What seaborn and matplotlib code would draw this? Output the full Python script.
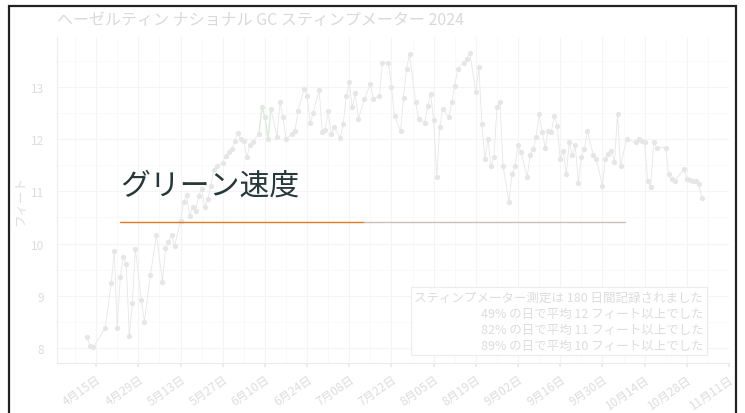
import matplotlib
matplotlib.use("Agg")
import matplotlib.pyplot as plt
import matplotlib.dates as mdates
from matplotlib.patches import Rectangle
from matplotlib.lines import Line2D
import seaborn as sns
import pandas as pd
import numpy as np

# ---------------- data ----------------
dates = [
    "04-12", "04-13", "04-14", "04-18", "04-20", "04-21", "04-22", "04-23", "04-24", "04-25",
    "04-26", "04-27", "04-28", "04-30", "05-01", "05-03", "05-05", "05-07", "05-08", "05-09",
    "05-10", "05-11", "05-13", "05-14", "05-15", "05-16", "05-17", "05-18", "05-19", "05-20",
    "05-21", "05-22", "05-23", "05-24", "05-25", "05-27", "05-28", "05-29", "05-30", "05-31",
    "06-01", "06-02", "06-03", "06-04", "06-05", "06-06", "06-08", "06-09", "06-10", "06-11",
    "06-12", "06-14", "06-15", "06-16", "06-17", "06-19", "06-20", "06-21", "06-23", "06-24",
    "06-25", "06-26", "06-28", "06-29", "06-30", "07-01", "07-02", "07-03", "07-05", "07-06",
    "07-07", "07-08", "07-09", "07-10", "07-11", "07-13", "07-15", "07-16", "07-18", "07-19",
    "07-21", "07-22", "07-23", "07-25", "07-26", "07-27", "07-28", "07-30", "07-31", "08-02",
    "08-03", "08-04", "08-05", "08-06", "08-07", "08-08", "08-10", "08-11", "08-12", "08-13",
    "08-15", "08-16", "08-17", "08-19", "08-20", "08-21", "08-22", "08-23", "08-24", "08-25",
    "08-26", "08-27", "08-28", "08-30", "08-31", "09-01", "09-02", "09-03", "09-05", "09-06",
    "09-07", "09-08", "09-09", "09-10", "09-11", "09-12", "09-13", "09-14", "09-15", "09-16",
    "09-17", "09-18", "09-19", "09-20", "09-21", "09-22", "09-23", "09-24", "09-25", "09-27",
    "09-28", "09-30", "10-01", "10-02", "10-03", "10-04", "10-05", "10-06", "10-08", "10-11",
    "10-12", "10-13", "10-14", "10-15", "10-16", "10-17", "10-18", "10-21", "10-22", "10-23",
    "10-24", "10-27", "10-28", "10-29", "10-30", "10-31", "11-01", "11-02",
]
speeds = [
    8.20, 8.04, 8.01, 8.38, 9.24, 9.85, 8.38, 9.36, 9.75, 9.60,
    8.22, 8.86, 9.90, 8.91, 8.50, 9.40, 10.17, 9.26, 9.91, 10.03,
    10.17, 9.95, 10.44, 10.80, 10.93, 10.53, 10.70, 10.62, 10.92, 11.05,
    10.70, 10.85, 11.10, 11.41, 11.48, 11.55, 11.68, 11.76, 11.81, 11.97,
    12.11, 12.00, 11.97, 11.65, 11.88, 11.95, 12.10, 12.61, 12.42, 12.00,
    12.58, 12.04, 12.71, 12.42, 12.00, 12.10, 12.16, 12.55, 12.96, 12.82,
    12.32, 12.50, 12.95, 12.13, 12.18, 12.55, 12.10, 12.23, 12.03, 12.29,
    12.83, 13.09, 12.61, 12.89, 12.39, 12.77, 13.06, 12.77, 12.83, 13.47,
    13.47, 13.00, 12.45, 12.16, 12.80, 13.35, 13.63, 12.71, 12.39, 12.32,
    12.64, 12.87, 12.36, 11.27, 12.23, 12.58, 12.42, 12.71, 13.03, 13.35,
    13.47, 13.54, 13.65, 12.90, 13.38, 12.29, 11.62, 12.00, 11.49, 11.65,
    12.61, 12.71, 11.49, 10.79, 11.33, 11.49, 11.88, 11.75, 11.27, 11.69,
    11.81, 12.04, 12.48, 12.13, 11.84, 12.16, 12.13, 12.45, 12.26, 11.62,
    11.78, 11.33, 11.94, 11.69, 11.88, 11.17, 11.65, 11.81, 12.16, 11.69,
    11.62, 11.11, 11.62, 11.72, 11.78, 11.56, 12.48, 11.49, 12.00, 11.94,
    12.00, 11.97, 11.94, 11.20, 11.08, 11.94, 11.84, 11.84, 11.33, 11.24,
    11.20, 11.43, 11.24, 11.22, 11.20, 11.19, 11.14, 10.87,
]
highlight_dates = ["06-08", "06-09", "06-10", "06-11", "06-12"]

chart_title = "ヘーゼルティン ナショナル GC スティンプメーター 2024"
y_label = "フィート"
y_ticks = [8, 9, 10, 11, 12, 13]
note_lines = [
    "スティンプメーター測定は 180 日間記録されました",
    "49% の日で平均 12 フィート以上でした",
    "82% の日で平均 11 フィート以上でした",
    "89% の日で平均 10 フィート以上でした",
]
slide_title = "グリーン速度"

# ---------------- build ----------------
year = "2024-"
df = pd.DataFrame({"date": pd.to_datetime([year + d for d in dates]), "speed": speeds})
hl = df[df["date"].isin(pd.to_datetime([year + d for d in highlight_dates]))]

sns.set_theme(style="whitegrid")
plt.rcParams["font.family"] = ["Noto Sans CJK JP", "DejaVu Sans"]

W, H = 745, 414
fig = plt.figure(figsize=(W / 100, H / 100), dpi=100)
fig.patch.set_facecolor("white")
ax = fig.add_axes([57 / W, 1 - 364 / H, (729 - 57) / W, (364 - 38) / H])
ax.set_facecolor("white")

sns.lineplot(data=df, x="date", y="speed", ax=ax, color="#7a7a7a", linewidth=0.6,
             marker="o", markersize=3.8, markeredgewidth=0, zorder=3)
sns.lineplot(data=hl, x="date", y="speed", ax=ax, color="#3aa33a", linewidth=1.0, zorder=4)

ax.set_xlim(pd.Timestamp("2024-04-02"), pd.Timestamp("2024-11-11"))
ax.set_ylim(7.71, 13.96)
ax.set_yticks(y_ticks)
ax.set_yticklabels([str(v) for v in y_ticks], fontsize=8.5, color="#444444")

xt = pd.date_range("2024-04-15", "2024-11-11", freq="14D")
ax.set_xticks(xt)
ax.set_xticklabels([f"{d.month}月{d.day:02d}日" for d in xt], rotation=35, ha="right",
                   rotation_mode="anchor", fontsize=8.5, color="#444444")
ax.xaxis.set_minor_locator(mdates.WeekdayLocator(byweekday=mdates.MO, interval=1))
ax.yaxis.set_minor_locator(matplotlib.ticker.MultipleLocator(0.5))
ax.grid(True, which="major", color="#c8c8c8", linewidth=0.8)
ax.grid(True, which="minor", color="#dedede", linewidth=0.6)
ax.tick_params(axis="x", which="major", length=3, color="#888888", bottom=True)
ax.tick_params(axis="both", which="minor", length=0)
for s in ["top", "right"]:
    ax.spines[s].set_visible(False)
for s in ["left", "bottom"]:
    ax.spines[s].set_color("#999999")
    ax.spines[s].set_linewidth(0.8)
ax.set_xlabel("")
ax.set_ylabel(y_label, fontsize=9, color="#444444")
ax.yaxis.set_label_coords((27 - 57) / (729 - 57), 0.5)
fig.text(57 / W, 1 - 20 / H, chart_title, fontsize=11.5,
         color="#333333", ha="left", va="center")

ax.text(0.962, 0.035, "\n".join(note_lines), transform=ax.transAxes, ha="right", va="bottom",
        fontsize=9, color="#444444", linespacing=1.3, zorder=6,
        bbox=dict(boxstyle="square,pad=0.25", facecolor="white", edgecolor="#999999", linewidth=0.8))

# ---------------- slide overlay ----------------
fig.patches.append(Rectangle((0, 0), 1, 1, transform=fig.transFigure, facecolor="white",
                             alpha=0.82, zorder=5))
fig.text(120 / W, 1 - 186 / H, slide_title, fontsize=21.5, color="#263838",
         ha="left", va="center", zorder=7)
fig.lines.append(Line2D([120 / W, 364 / W], [1 - 223 / H] * 2, transform=fig.transFigure,
                        color="#e07a1f", linewidth=1.0, zorder=7))
fig.lines.append(Line2D([364 / W, 625 / W], [1 - 223 / H] * 2, transform=fig.transFigure,
                        color="#c9c0b8", linewidth=1.0, zorder=7))
fig.patches.append(Rectangle((9 / W, -0.05), (736 - 9) / W, 1.05 - 6.5 / H,
                             transform=fig.transFigure, facecolor="none",
                             edgecolor="#222222", linewidth=1.6, zorder=8))

fig.savefig("out.png", dpi=100)
